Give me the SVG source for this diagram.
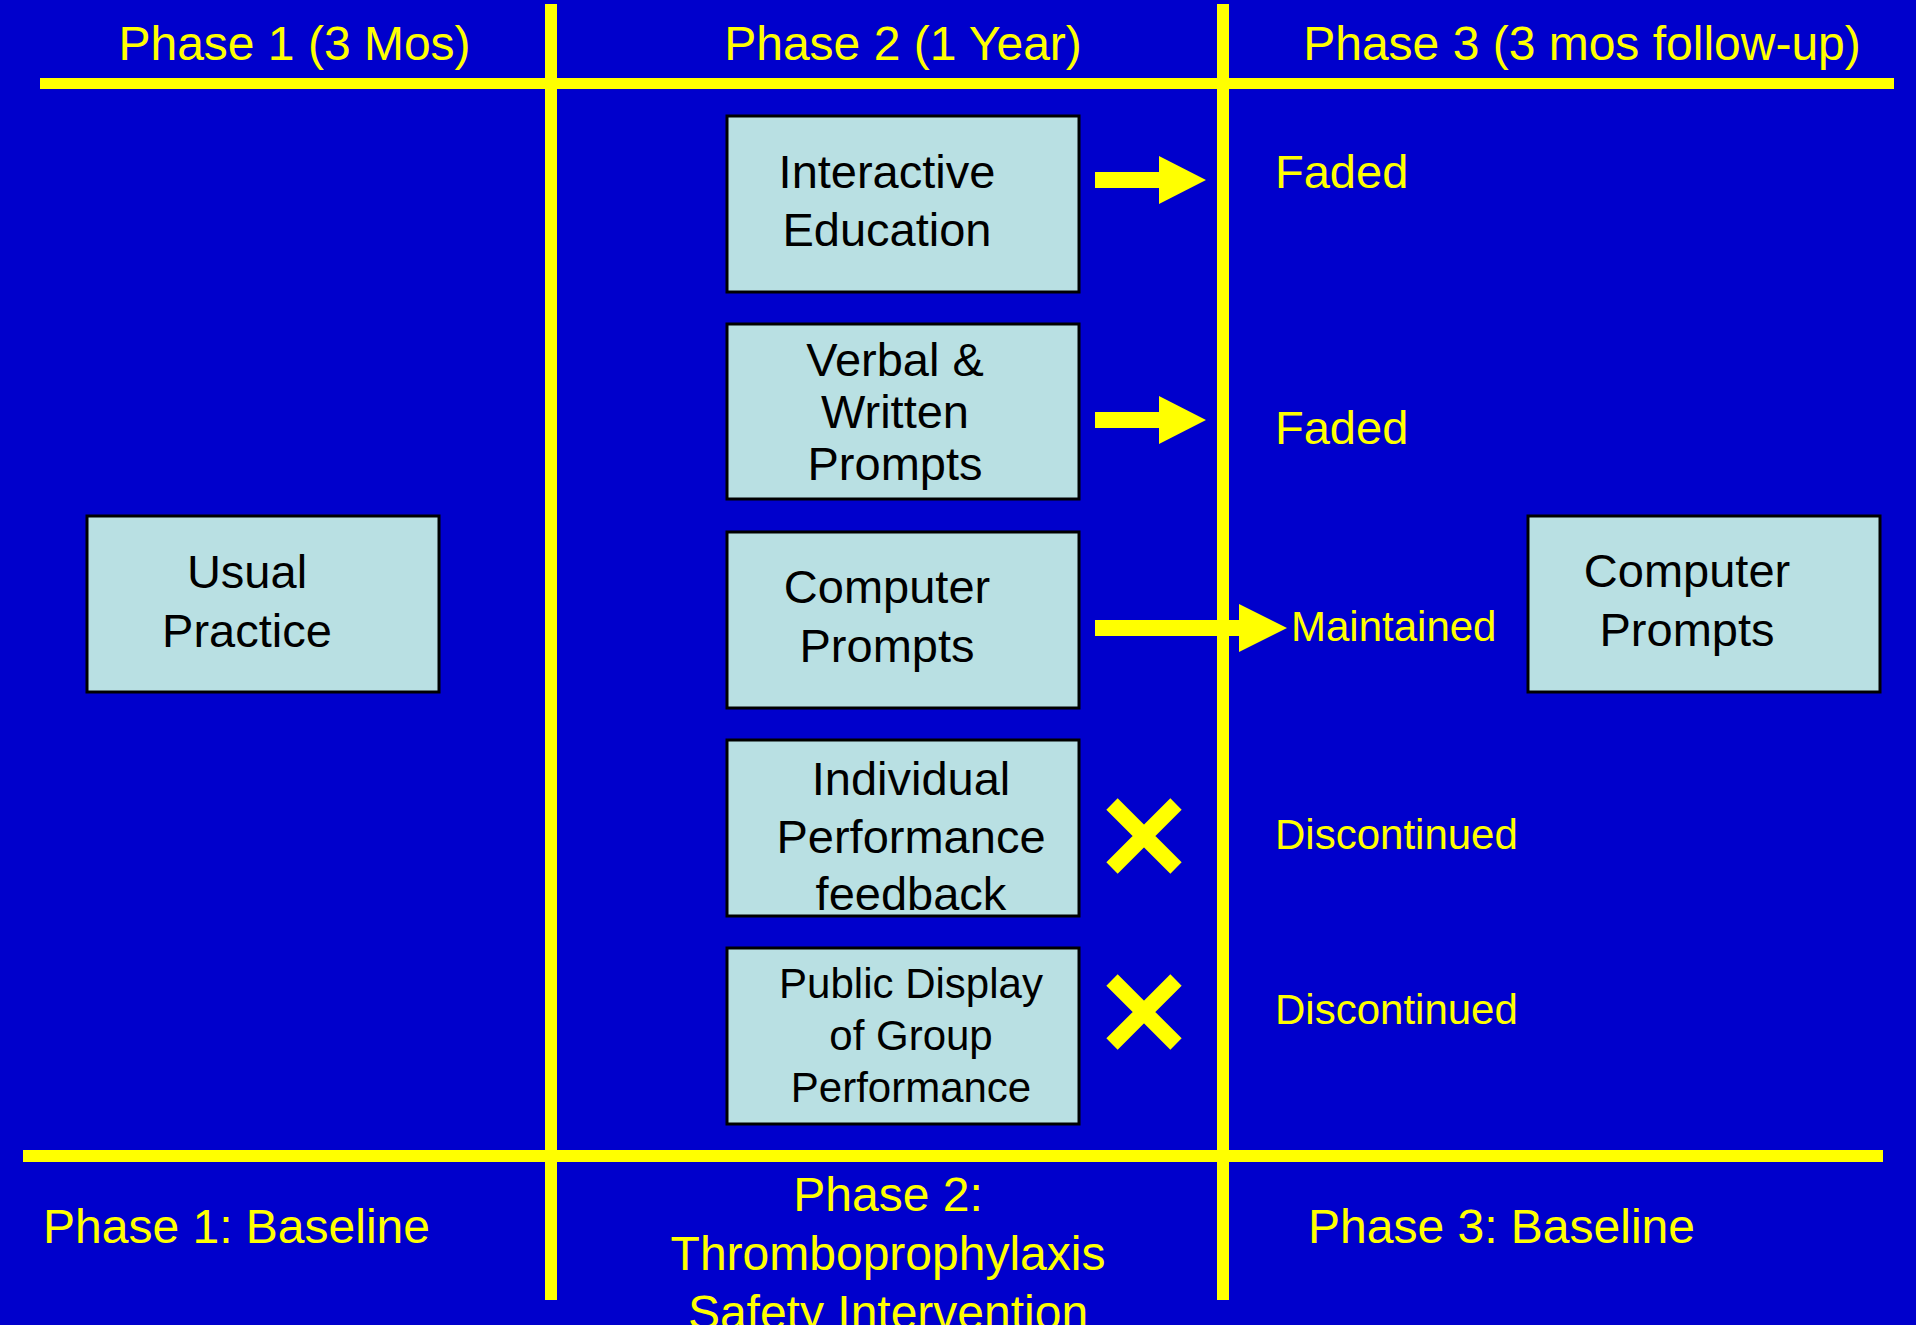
<svg xmlns="http://www.w3.org/2000/svg" width="1916" height="1325" viewBox="0 0 1916 1325">
<defs>
<style>
.bg{fill:#0000CC}
.ln{fill:#FFFF00}
.box{fill:#B9E0E3;stroke:#000;stroke-width:3}
.bt{font-family:"Liberation Sans",Arial,sans-serif;font-size:47px;fill:#000;text-anchor:middle}
.bs{font-size:42px}
.yt{font-family:"Liberation Sans",Arial,sans-serif;font-size:48px;fill:#FFFF00}
.lab{font-family:"Liberation Sans",Arial,sans-serif;font-size:47px;fill:#FFFF00}
.ls{font-size:42px}
.mid{text-anchor:middle}
.x{stroke:#FFFF00;stroke-width:16;stroke-linecap:butt}
</style>
</defs>
<rect class="bg" x="0" y="0" width="1916" height="1325"/>
<g id="grid">
<rect class="ln" x="40" y="78" width="1854" height="11"/>
<rect class="ln" x="23" y="1150" width="1860" height="12"/>
<rect class="ln" x="545" y="4" width="12" height="1296"/>
<rect class="ln" x="1217" y="4" width="12" height="1296"/>
</g>
<g id="headers">
<text class="yt mid" x="294.5" y="60">Phase 1 (3 Mos)</text>
<text class="yt mid" x="903" y="60">Phase 2 (1 Year)</text>
<text class="yt mid" x="1582" y="60">Phase 3 (3 mos follow-up)</text>
</g>
<g id="usual-practice">
<rect class="box" x="87" y="516" width="352" height="176"/>
<text class="bt" x="247" y="588">Usual</text>
<text class="bt" x="247" y="647">Practice</text>
</g>
<g id="interactive-education">
<rect class="box" x="727" y="116" width="352" height="176"/>
<text class="bt" x="887" y="188">Interactive</text>
<text class="bt" x="887" y="246">Education</text>
</g>
<g id="verbal-written-prompts">
<rect class="box" x="727" y="324" width="352" height="175"/>
<text class="bt" x="895" y="376">Verbal &amp;</text>
<text class="bt" x="895" y="428">Written</text>
<text class="bt" x="895" y="480">Prompts</text>
</g>
<g id="computer-prompts">
<rect class="box" x="727" y="532" width="352" height="176"/>
<text class="bt" x="887" y="603">Computer</text>
<text class="bt" x="887" y="662">Prompts</text>
</g>
<g id="individual-feedback">
<rect class="box" x="727" y="740" width="352" height="176"/>
<text class="bt" x="911" y="795">Individual</text>
<text class="bt" x="911" y="853">Performance</text>
<text class="bt" x="911" y="910">feedback</text>
</g>
<g id="public-display">
<rect class="box" x="727" y="948" width="352" height="176"/>
<text class="bt bs" x="911" y="998">Public Display</text>
<text class="bt bs" x="911" y="1050">of Group</text>
<text class="bt bs" x="911" y="1102">Performance</text>
</g>
<g id="computer-prompts-2">
<rect class="box" x="1528" y="516" width="352" height="176"/>
<text class="bt" x="1687" y="587">Computer</text>
<text class="bt" x="1687" y="646">Prompts</text>
</g>
<g id="connectors">
<polygon class="ln" points="1095,172 1159,172 1159,156 1206,180 1159,204 1159,188 1095,188"/>
<polygon class="ln" points="1095,412 1159,412 1159,396 1206,420 1159,444 1159,428 1095,428"/>
<polygon class="ln" points="1095,620 1239,620 1239,604 1287,628 1239,652 1239,636 1095,636"/>
<path class="x" d="M1112,804 L1176,868 M1176,804 L1112,868"/>
<path class="x" d="M1112,980 L1176,1044 M1176,980 L1112,1044"/>
</g>
<g id="outcomes">
<text class="lab" x="1275" y="188">Faded</text>
<text class="lab" x="1275" y="444">Faded</text>
<text class="lab ls" x="1291" y="641">Maintained</text>
<text class="lab ls" x="1275" y="849">Discontinued</text>
<text class="lab ls" x="1275" y="1024">Discontinued</text>
</g>
<g id="footers">
<text class="yt" x="43" y="1243">Phase 1: Baseline</text>
<text class="yt mid" x="888" y="1211">Phase 2:</text>
<text class="yt mid" x="888" y="1270">Thromboprophylaxis</text>
<text class="yt mid" x="888" y="1329">Safety Intervention</text>
<text class="yt" x="1308" y="1243">Phase 3: Baseline</text>
</g>
</svg>
